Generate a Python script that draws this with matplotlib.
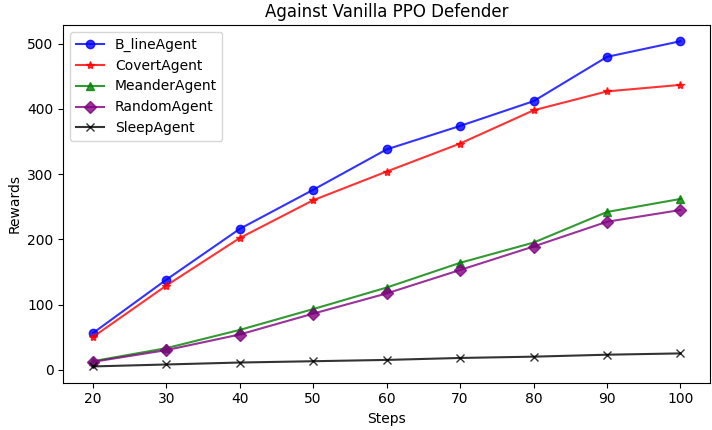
import matplotlib
matplotlib.use("Agg")
import matplotlib.pyplot as plt

steps = [20, 30, 40, 50, 60, 70, 80, 90, 100]
bline = [56, 138, 216, 276, 338, 374, 412, 480, 504]
covert = [50, 129, 202, 260, 304, 347, 398, 427, 437]
meander = [13, 33, 61, 93, 126, 164, 195, 242, 262]
random_agent = [12, 30, 54, 86, 117, 153, 189, 227, 245]
sleep = [5, 8, 11, 13, 15, 18, 20, 23, 25]

series = [
    ("B_lineAgent", bline, "blue", "o"),
    ("CovertAgent", covert, "red", "*"),
    ("MeanderAgent", meander, "green", "^"),
    ("RandomAgent", random_agent, "purple", "D"),
    ("SleepAgent", sleep, "black", "x"),
]

fig, ax = plt.subplots(figsize=(7.12, 4.3), dpi=100)
for name, vals, col, mk in series:
    ax.plot(steps, vals, color=col, marker=mk, label=name, alpha=0.8)

ax.set_title("Against Vanilla PPO Defender")
ax.set_xlabel("Steps")
ax.set_ylabel("Rewards")
ax.set_xticks(steps)
ax.legend(loc="upper left")

fig.subplots_adjust(left=0.089, right=0.997, top=0.942, bottom=0.11)
fig.savefig("out.png")
